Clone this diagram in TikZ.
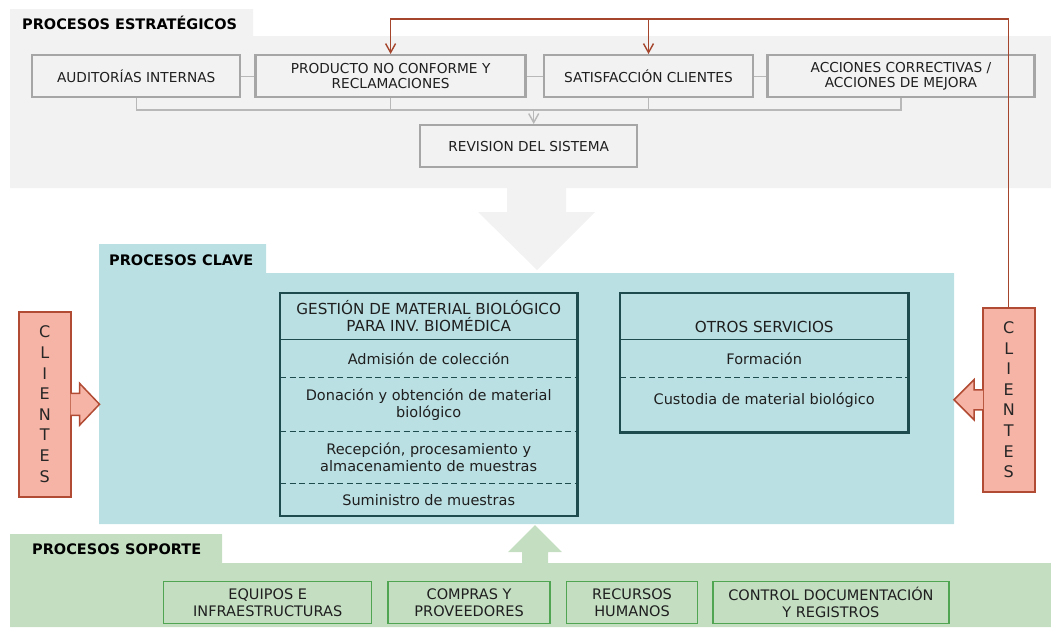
\documentclass[tikz,border=0pt]{standalone}
\usepackage{fontspec}
\setmainfont{DejaVu Sans}
\usepackage{tikz}
\usetikzlibrary{arrows.meta, calc, positioning, fit}

\definecolor{bandgray}{HTML}{F2F2F2}
\definecolor{stratline}{HTML}{A6A6A6}
\definecolor{busgray}{HTML}{B8B8B8}
\definecolor{fbred}{HTML}{A4452C}
\definecolor{clifill}{HTML}{F6B4A6}
\definecolor{clidraw}{HTML}{B14B33}
\definecolor{keycyan}{HTML}{BBE0E3}
\definecolor{keyline}{HTML}{1E4C4E}
\definecolor{supgreen}{HTML}{C4DEC2}
\definecolor{supline}{HTML}{4FA552}

\newcommand{\headfont}{\fontsize{14.5}{17}\selectfont\bfseries}
\newcommand{\stratfont}{\fontsize{13.7}{15}\selectfont}
\newcommand{\keyfont}{\fontsize{14.5}{17}\selectfont}
\newcommand{\keycapsfont}{\fontsize{15.2}{17}\selectfont}
\newcommand{\supfont}{\fontsize{14.5}{17}\selectfont}
\newcommand{\clifont}{\fontsize{16}{20.6}\selectfont}

\begin{document}
\begin{tikzpicture}[x=1pt, y=-1pt,
    head/.style={anchor=base west, inner sep=0pt, font=\headfont},
    strat/.style={draw=stratline, line width=2.4pt, fill=bandgray, minimum height=42pt,
      inner sep=0pt, align=center, font=\stratfont, text=black!88},
    bus/.style={draw=busgray, line width=1.4pt},
    vtip/.style={-{Straight Barb[length=9pt, width=10pt]}},
    fb/.style={draw=fbred, line width=1.4pt},
    cli/.style={draw=clidraw, fill=clifill, line width=1.5pt, inner sep=0pt,
      minimum width=52pt, align=center, font=\clifont, text=black!85},
    cliarrow/.style={draw=clidraw, fill=clifill, line width=1.5pt},
    row/.style={inner sep=0pt, align=center, font=\keyfont, text=black!88},
    frame/.style={draw=keyline, line width=2.7pt, inner sep=0pt},
    sepline/.style={draw=keyline, line width=1.5pt},
    dashsep/.style={draw=keyline, line width=1.2pt, dash pattern=on 6pt off 3.5pt},
    sup/.style={draw=supline, line width=1.4pt, fill=supgreen, minimum height=42pt,
      inner sep=0pt, align=center, font=\supfont, text=black!88}]

    \useasboundingbox (0,0) rectangle (1051,627);

    % bands
    \fill[bandgray] (10,9) -- (253,9) -- (253,36) -- (1051,36) -- (1051,188) -- (10,188) -- cycle;
    \fill[bandgray] (507,187) -- (566,187) -- (566,212) -- (595,212) -- (537,270) -- (478,212) -- (507,212) -- cycle;
    \fill[keycyan] (99,244) -- (266,244) -- (266,273) -- (954,273) -- (954,524) -- (99,524) -- cycle;
    \fill[supgreen] (10,534) -- (222,534) -- (222,563) -- (1051,563) -- (1051,627) -- (10,627) -- cycle;
    \fill[supgreen] (522,564) -- (548,564) -- (548,552) -- (562,552) -- (535,525) -- (508,552) -- (522,552) -- cycle;

    \node[head] (esthead) at (22,29) {PROCESOS ESTRATÉGICOS};
    \node[head] (keyhead) at (109,265) {PROCESOS CLAVE};
    \node[head] (suphead) at (32,554) {PROCESOS SOPORTE};

    \node[strat, minimum width=208pt, anchor=north west] (aud) at (31,54) {AUDITORÍAS INTERNAS};
    \node[strat, minimum width=270pt, right=13pt of aud] (prod) {PRODUCTO NO CONFORME Y\\RECLAMACIONES};
    \node[strat, minimum width=209pt, right=16pt of prod] (sat) {SATISFACCIÓN CLIENTES};
    \node[strat, minimum width=267pt, right=12pt of sat] (acc) {ACCIONES CORRECTIVAS /\\ACCIONES DE MEJORA};
    \node[strat, minimum width=217pt, anchor=north west] (rev) at (419,124) {REVISION DEL SISTEMA};

    \coordinate (bus) at (0,110);
    \draw[bus] (aud.east) -- (prod.west);
    \draw[bus] (prod.east) -- (sat.west);
    \draw[bus] (sat.east) -- (acc.west);
    \draw[bus] (aud.south) -- (aud.south |- bus) -- (acc.south |- bus) -- (acc.south);
    \draw[bus] (prod.south) -- (prod.south |- bus);
    \draw[bus] (sat.south) -- (sat.south |- bus);
    \draw[bus, vtip] ([xshift=5pt]rev.north |- bus) -- ([xshift=5pt]rev.north);

    \node[row, font=\keycapsfont, minimum width=297pt, minimum height=46pt, anchor=north west] (gesthead) at (280,293) {GESTIÓN DE MATERIAL BIOLÓGICO\\PARA INV. BIOMÉDICA};
    \node[row, minimum width=297pt, minimum height=38pt, below=0pt of gesthead] (gest1) {Admisión de colección};
    \node[row, minimum width=297pt, minimum height=53pt, below=0pt of gest1] (gest2) {Donación y obtención de material\\biológico};
    \node[row, minimum width=297pt, minimum height=52pt, below=0pt of gest2] (gest3) {Recepción, procesamiento y\\almacenamiento de muestras};
    \node[row, minimum width=297pt, minimum height=32pt, below=0pt of gest3] (gest4) {Suministro de muestras};
    \node[frame, fit=(gesthead)(gest4)] (gest) {};
    \draw[sepline] (gesthead.south west) -- (gesthead.south east);
    \draw[dashsep] (gest1.south west) -- (gest1.south east);
    \draw[dashsep] (gest2.south west) -- (gest2.south east);
    \draw[dashsep] (gest3.south west) -- (gest3.south east);

    \node[row, minimum width=288pt, minimum height=46pt, anchor=north west] (otroshead) at (620,293) {};
    \node[row, font=\keycapsfont, anchor=south, inner sep=6pt] (otrostxt) at (otroshead.south) {OTROS SERVICIOS};
    \node[row, minimum width=288pt, minimum height=38pt, below=0pt of otroshead] (otros1) {Formación};
    \node[row, minimum width=288pt, minimum height=54pt, text height=11pt, text depth=13pt, below=0pt of otros1] (otros2) {Custodia de material biológico};
    \node[frame, fit=(otroshead)(otros2)] (otros) {};
    \draw[sepline] (otroshead.south west) -- (otroshead.south east);
    \draw[dashsep] (otros1.south west) -- (otros1.south east);

    \node[cli, minimum height=185pt, anchor=north west] (clil) at (18,311) {C\\L\\I\\E\\N\\T\\E\\S};
    \node[cli, minimum height=184pt, anchor=north west] (clir) at (982,307) {C\\L\\I\\E\\N\\T\\E\\S};
    \path[cliarrow] ($(clil.east)+(-1,-11)$) -- ++(9,0) -- ++(0,-10) -- ++(20,21) -- ++(-20,21) -- ++(0,-10) -- ++(-9,0);
    \path[cliarrow] ($(clir.west)+(1,-10)$) -- ++(-9,0) -- ++(0,-10) -- ++(-20,20) -- ++(20,20) -- ++(0,-10) -- ++(9,0);

    \coordinate (fbsplit) at ($(sat.north)+(0,-35)$);
    \draw[fb, vtip] (clir.north) |- ($(prod.north)+(0,-35)$) -- (prod.north);
    \draw[fb, vtip] (fbsplit) -- (sat.north);

    \node[sup, minimum width=208pt, anchor=north west] (equipos) at (163,581) {EQUIPOS E\\INFRAESTRUCTURAS};
    \node[sup, minimum width=162pt, right=15pt of equipos] (compras) {COMPRAS Y\\PROVEEDORES};
    \node[sup, minimum width=131pt, right=15pt of compras] (rrhh) {RECURSOS\\HUMANOS};
    \node[sup, minimum width=236pt, right=14pt of rrhh] (control) {CONTROL DOCUMENTACIÓN\\Y REGISTROS};

\end{tikzpicture}
\end{document}
